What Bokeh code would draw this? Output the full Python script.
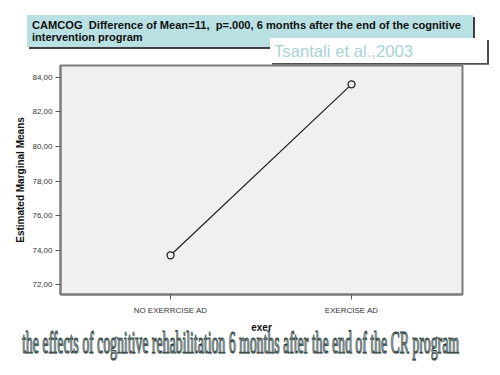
from bokeh.plotting import figure
from bokeh.layouts import column
from bokeh.models import Range1d, FixedTicker, Div
from bokeh.embed import file_html
from bokeh.resources import INLINE

# ---- data ----
categories = ["NO EXERRCISE AD", "EXERCISE AD"]
means = [73.7, 83.6]
y_ticks = [72, 74, 76, 78, 80, 82, 84]
y_tick_labels = ["72,00", "74,00", "76,00", "78,00", "80,00", "82,00", "84,00"]
title_lines = ["CAMCOG  Difference of Mean=11,  p=.000, 6 months after the end of the cognitive",
               "intervention program"]
citation = "Tsantali et al.,2003"
caption = "the effects of cognitive rehabilitation 6 months after the end of the CR program"
x_label = "exer"
y_label = "Estimated Marginal Means"

W = 490
HEAD_H, MAIN_H, CAP_H = 64, 271, 35

# ---- header: title box + citation box (inline SVG) ----
head_html = (
    '<svg xmlns="http://www.w3.org/2000/svg" width="490" height="66" '
    'style="display:block;overflow:visible;">'
    '<rect x="29" y="17" width="446" height="32" fill="#404040"/>'
    '<rect x="27" y="15" width="446" height="32" fill="#b9e0e2"/>'
    '<text x="32" y="28.5" textLength="429" lengthAdjust="spacingAndGlyphs" '
    'style="white-space:pre;font-family:\'Liberation Sans\';font-weight:bold;font-size:11px;" '
    'fill="#111111">' + title_lines[0] + '</text>'
    '<text x="32" y="41" style="white-space:pre;font-family:\'Liberation Sans\';'
    'font-weight:bold;font-size:11px;" fill="#111111">' + title_lines[1] + '</text>'
    '<rect x="272" y="40" width="217" height="25" fill="#505050"/>'
    '<rect x="270" y="38" width="217" height="25" fill="#ffffff"/>'
    '<text x="274" y="57" textLength="139" lengthAdjust="spacingAndGlyphs" '
    'style="font-family:\'Liberation Sans\';font-size:16.5px;" fill="#a9d3d8">'
    + citation + '</text>'
    '</svg>'
)
head = Div(text=head_html, width=W, height=HEAD_H, margin=(0, 0, 0, 0))

# ---- main chart ----
p = figure(width=W, height=MAIN_H, output_backend="svg", toolbar_location=None,
           x_range=Range1d(-0.608, 1.613), y_range=Range1d(71.43, 84.69),
           min_border_left=60, min_border_top=1, min_border_right=28, min_border_bottom=38)
p.margin = (0, 0, 0, 0)
p.background_fill_color = "#f0f0f0"
p.border_fill_color = "white"
p.outline_line_color = "#7a7a7a"
p.outline_line_width = 2
p.grid.visible = False

xs = list(range(len(categories)))
p.line(xs, means, line_color="#202020", line_width=1.2)
p.scatter(xs, means, size=7, fill_color="#f0f0f0", line_color="#202020", line_width=1.3)

p.xaxis.ticker = FixedTicker(ticks=xs)
p.xaxis.major_label_overrides = {i: c for i, c in enumerate(categories)}
p.yaxis.ticker = FixedTicker(ticks=y_ticks)
p.yaxis.major_label_overrides = {t: l for t, l in zip(y_ticks, y_tick_labels)}

for ax in (p.xaxis[0], p.yaxis[0]):
    ax.axis_line_color = "#7a7a7a"
    ax.axis_line_width = 2
    ax.major_tick_line_color = "#555555"
    ax.major_tick_in = 0
    ax.major_tick_out = 5
    ax.minor_tick_line_color = None
    ax.major_label_text_font = "Liberation Sans"
    ax.major_label_text_font_size = "8px"
    ax.major_label_text_color = "#333333"
    ax.axis_label_text_font = "Liberation Sans"
    ax.axis_label_text_font_style = "bold"
    ax.axis_label_text_color = "#111111"

p.xaxis.axis_label = x_label
p.xaxis.axis_label_text_font_size = "10px"
p.xaxis.major_label_standoff = 6
p.xaxis.axis_label_standoff = 4
p.yaxis.axis_label = y_label
p.yaxis.axis_label_text_font_size = "10px"
p.yaxis.major_label_standoff = 3
p.yaxis.axis_label_standoff = 3

# ---- caption (WordArt-like tall serif: small font stretched vertically) ----
cap_style = "font-family:'Liberation Serif';font-size:13.5px;"
cap_html = (
    '<svg xmlns="http://www.w3.org/2000/svg" width="490" height="35" '
    'style="display:block;overflow:visible;">'
    '<text transform="translate(23,19) scale(1,2.3)" x="0" y="0" textLength="437" '
    'lengthAdjust="spacingAndGlyphs" style="' + cap_style + '" fill="#c8d0d0">'
    + caption + '</text>'
    '<text transform="translate(22,18) scale(1,2.3)" x="0" y="0" textLength="437" '
    'lengthAdjust="spacingAndGlyphs" style="' + cap_style + '" fill="#a3b3b1" '
    'stroke="#2e3e3e" stroke-width="0.45">' + caption + '</text>'
    '</svg>'
)
cap = Div(text=cap_html, width=W, height=CAP_H, margin=(0, 0, 0, 0))

layout = column(head, p, cap, spacing=0)
open("out.html", "w").write(file_html(layout, INLINE))
